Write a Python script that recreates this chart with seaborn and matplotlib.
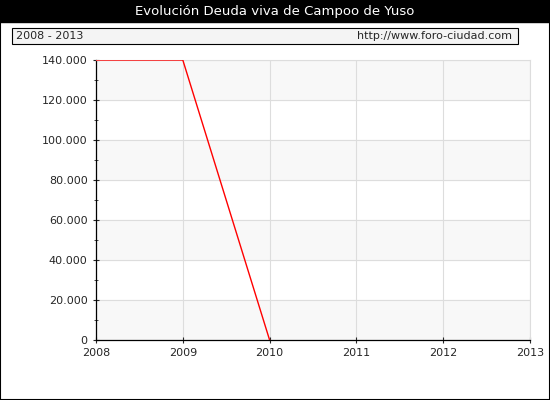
import matplotlib
matplotlib.use("Agg")
import matplotlib.pyplot as plt
import seaborn as sns
import pandas as pd
from matplotlib.ticker import FuncFormatter, MultipleLocator

years = [2008, 2009, 2010]
deuda = [140000, 140000, 0]
title = "Evolución Deuda viva de Campoo de Yuso"
period = "2008 - 2013"
url = "http://www.foro-ciudad.com"

df = pd.DataFrame({"year": years, "deuda": deuda})

sns.set_style("white")
plt.rcParams['font.family'] = ['DejaVu Sans']
fig = plt.figure(figsize=(5.5, 4.0), dpi=100)
W, H = 550, 400
ax = fig.add_axes([96/W, 1-340/H, (530-96)/W, (340-60)/H])

for lo in range(0, 140001, 40000):
    ax.axhspan(lo, lo + 20000, color="#f8f8f8", zorder=0)
sns.lineplot(data=df, x="year", y="deuda", color="red", lw=1, ax=ax, zorder=3)
ax.set_xlim(2008, 2013)
ax.set_ylim(0, 140000)
ax.yaxis.set_major_locator(MultipleLocator(20000))
ax.yaxis.set_minor_locator(MultipleLocator(10000))
ax.yaxis.set_major_formatter(FuncFormatter(lambda v, p: f"{int(v):,}".replace(",", ".")))
ax.set_xticks(range(2008, 2014))
ax.grid(True, axis="both", color="#dddddd", lw=0.8, zorder=1)
ax.set_axisbelow(True)
ax.set_xlabel(""); ax.set_ylabel("")
for k, s in ax.spines.items():
    if k in ("left", "bottom"):
        s.set_color("black"); s.set_linewidth(0.9)
    else:
        s.set_color("#dddddd"); s.set_linewidth(0.8)
ax.tick_params(axis="both", which="both", direction="inout", labelsize=8, left=True, bottom=True)
ax.tick_params(which="major", length=5)
ax.tick_params(which="minor", length=3)

fig.patches.append(plt.Rectangle((0, 1-22/H), 1, 22/H, transform=fig.transFigure, color="black"))
fig.text(0.5, 1-11/H, title, color="white", ha="center", va="center", fontsize=9.5)
fig.patches.append(plt.Rectangle((12/W, 1-44/H), (518-12)/W, 16/H, transform=fig.transFigure,
                                 facecolor="#f4f4f4", edgecolor="black", lw=0.8))
fig.text(16/W, 1-36/H, period, fontsize=8, va="center")
fig.text(512/W, 1-36/H, url, fontsize=8, va="center", ha="right")
fig.patches.append(plt.Rectangle((0, 0), 1, 1, transform=fig.transFigure, fill=False, edgecolor="black", lw=1.5))

fig.savefig("out.png", dpi=100)
